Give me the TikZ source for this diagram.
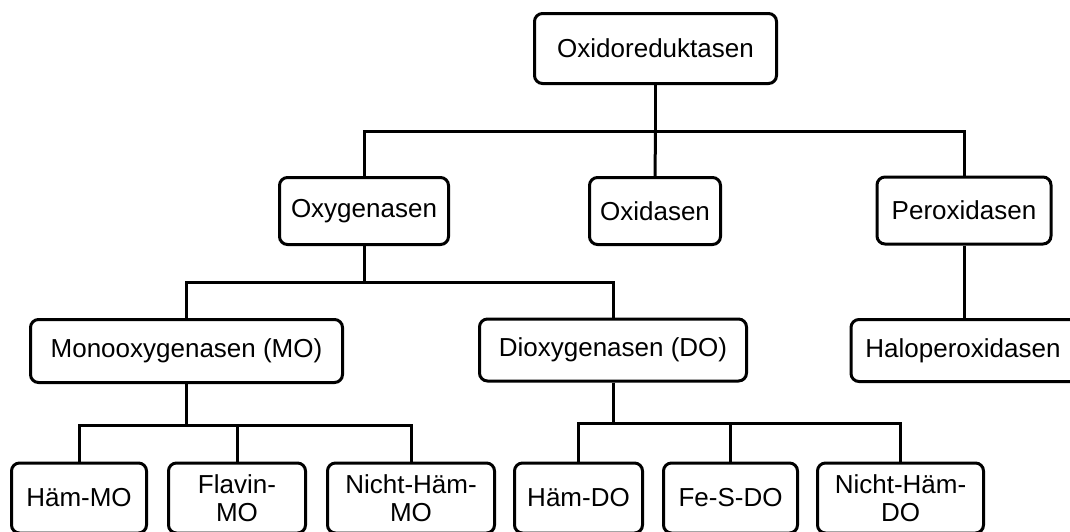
\documentclass[tikz,border=0pt]{standalone}
\usepackage{fontspec}
\setmainfont{Liberation Sans}
\usetikzlibrary{positioning}

\begin{document}
\begin{tikzpicture}[x=1pt,y=-1pt,line width=3pt,
    every node/.style={draw,rounded corners=8pt,align=center,
    inner sep=0pt,minimum height=67pt,font=\fontsize{26}{28}\selectfont}]
  \useasboundingbox (0,0) rectangle (1070,531);
  \clip (0,0) rectangle (1070,531);

  \node[minimum width=242pt,minimum height=70pt] (oxred) at (655.5,48.5) {Oxidoreduktasen};

  \node[minimum width=169pt] (oxy) at (364,211) {Oxygenasen};
  \node[minimum width=131pt] (oxid) at (655,211) {Oxidasen};
  \node[minimum width=174pt] (perox) at (964,210.5) {Peroxidasen};

  \node[minimum width=312pt,minimum height=63pt] (mono) at (186.5,351) {Monooxygenasen (MO)};
  \node[minimum width=267pt,minimum height=62pt] (dioxy) at (613,350) {Dioxygenasen (DO)};
  \node[minimum width=260pt,minimum height=62pt] (halo) at (981,350.5) {Haloperoxidasen\hspace*{36pt}};

  \node[minimum width=135pt,minimum height=70pt] (hmo) at (79,498) {Häm-MO};
  \node[minimum width=137pt,minimum height=70pt] (fmo) at (237,498) {Flavin-\\MO};
  \node[minimum width=167pt,minimum height=70pt] (nmo) at (411,498) {Nicht-Häm-\\MO};
  \node[minimum width=128pt,minimum height=70pt] (hdo) at (578.5,498) {Häm-DO};
  \node[minimum width=134pt,minimum height=70pt] (fdo) at (730.5,498) {Fe-S-DO};
  \node[minimum width=166pt,minimum height=70pt] (ndo) at (900.5,498) {Nicht-Häm-\\DO};

  \draw (oxred.south) -- ++(0,46) coordinate (top);
  \draw (oxy.north) |- (top) -| (perox.north);
  \draw (top) -- (oxid.north);

  \draw (oxy.south) -- ++(0,36) coordinate (mid);
  \draw (mono.north) |- (mid) -| (dioxy.north);
  \draw (perox.south) -- (perox.south |- halo.north);

  \draw (mono.south) -- ++(0,41) coordinate (mobar);
  \draw (hmo.north) |- (mobar) -| (nmo.north);
  \draw (mobar) -| (fmo.north);

  \draw (dioxy.south) -- ++(0,41) coordinate (dobar);
  \draw (hdo.north) |- (dobar) -| (ndo.north);
  \draw (dobar) -| (fdo.north);
\end{tikzpicture}
\end{document}
